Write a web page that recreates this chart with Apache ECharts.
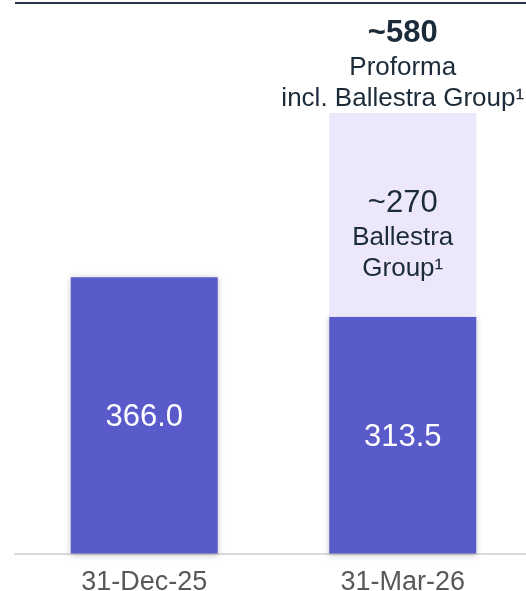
<!DOCTYPE html>
<html>
<head>
<meta charset="utf-8">
<script src="https://cdn.jsdelivr.net/npm/echarts@6/dist/echarts.min.js"></script>
<style>html,body{margin:0;padding:0;background:#fff}#c{width:526px;height:591px}</style>
</head>
<body>
<div id="c"></div>
<script>
var categories = ['31-Dec-25', '31-Mar-26'];
var baseValues = [366.0, 313.5];
var ballestraValues = [null, 270];
var ballestraLabel = ['~270', 'Ballestra', 'Group¹'];
var proformaTotals = [null, 583.5];
var proformaLabel = ['~580', 'Proforma', 'incl. Ballestra Group¹'];

var FONT = '"Liberation Sans", Arial, sans-serif';
var chart = echarts.init(document.getElementById('c'), null, {renderer: 'canvas'});
chart.setOption({
  animation: false,
  grid: {left: 15, width: 517, top: 25.1, bottom: 37.5, containLabel: false, outerBoundsMode: 'none'},
  xAxis: {
    type: 'category',
    data: categories,
    axisLine: {show: true, lineStyle: {color: '#d9d9d9', width: 2}},
    axisTick: {show: false},
    axisLabel: {color: '#595959', fontSize: 27, fontFamily: FONT, margin: 16}
  },
  yAxis: {
    type: 'value', min: 0, max: 700,
    show: false, splitLine: {show: false}
  },
  graphic: [{
    type: 'line', shape: {x1: 15, y1: 3, x2: 526, y2: 3},
    style: {stroke: '#263445', lineWidth: 2}
  }],
  series: [
    {
      type: 'bar', stack: 'a', barWidth: 147,
      data: baseValues,
      itemStyle: {color: '#5a5bcb', shadowBlur: 6, shadowColor: 'rgba(0,0,0,0.25)', shadowOffsetX: 0, shadowOffsetY: 1},
      label: {show: true, position: 'inside', offset: [0, 2], color: '#ffffff', fontSize: 31, fontFamily: FONT,
        formatter: function (p) { return p.value.toFixed(1); }}
    },
    {
      type: 'bar', stack: 'a', barWidth: 147,
      data: ballestraValues,
      itemStyle: {color: '#ece7fb'},
      label: {show: true, position: 'inside', offset: [0, 20],
        formatter: function () { return '{a|' + ballestraLabel[0] + '}\n{b|' + ballestraLabel[1] + '}\n{b|' + ballestraLabel[2] + '}'; },
        rich: {
          a: {fontSize: 31, lineHeight: 37, color: '#1c2b39', fontFamily: FONT},
          b: {fontSize: 26, lineHeight: 31, color: '#1c2b39', fontFamily: FONT}
        }
      }
    },
    {
      type: 'scatter', symbolSize: 0,
      data: proformaTotals,
      itemStyle: {opacity: 1},
      label: {show: true, position: 'top', distance: -1, opacity: 1, color: '#1c2b39',
        formatter: function () { return '{a|' + proformaLabel[0] + '}\n{b|' + proformaLabel[1] + '}\n{b|' + proformaLabel[2] + '}'; },
        rich: {
          a: {fontSize: 31, fontWeight: 'bold', lineHeight: 37, color: '#1c2b39', fontFamily: FONT},
          b: {fontSize: 26, lineHeight: 31, color: '#1c2b39', fontFamily: FONT}
        }
      }
    }
  ]
});
</script>
</body>
</html>
